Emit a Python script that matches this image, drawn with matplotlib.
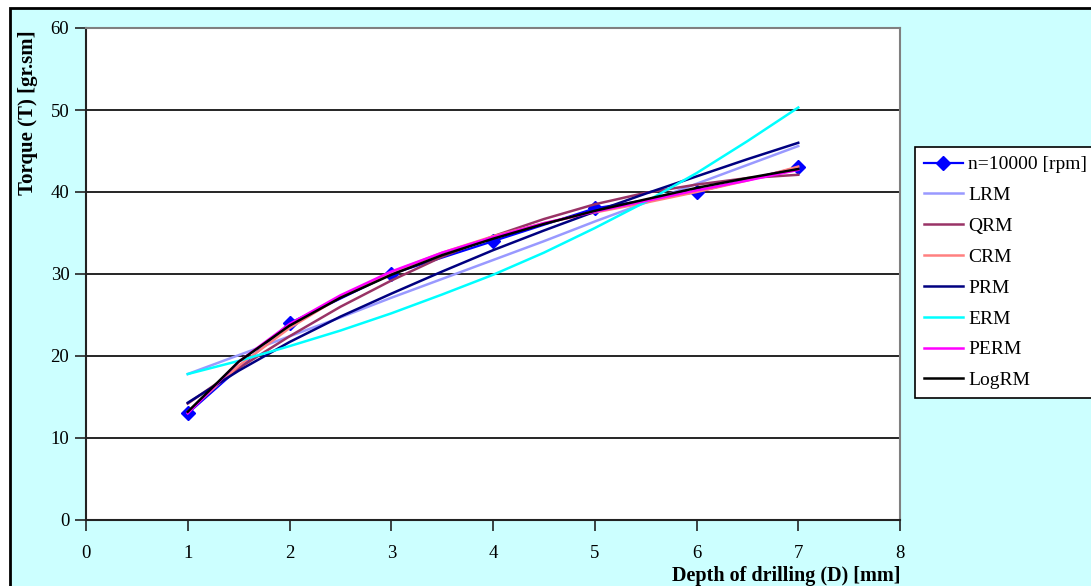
import matplotlib
matplotlib.use("Agg")
import matplotlib.pyplot as plt
from matplotlib.patches import Rectangle

# ---- data ----
depth = [1, 2, 3, 4, 5, 6, 7]
torque = [13, 24, 30, 34, 38, 40, 43]

x_fit = [1, 1.5, 2, 2.5, 3, 3.5, 4, 4.5, 5, 5.5, 6, 6.5, 7]
lrm = [17.8, 20.1, 22.4, 24.7, 27.1, 29.4, 31.7, 34.0, 36.4, 38.7, 41.0, 43.3, 45.6]
qrm = [14.2, 18.5, 22.4, 26.0, 29.2, 32.1, 34.6, 36.7, 38.5, 39.9, 40.9, 41.7, 42.1]
crm = [13.2, 18.8, 23.4, 27.2, 30.2, 32.6, 34.6, 36.2, 37.5, 38.7, 40.0, 41.4, 43.1]
prm = [14.3, 18.2, 21.7, 24.8, 27.6, 30.3, 32.9, 35.3, 37.6, 39.8, 41.9, 44.0, 46.0]
erm = [17.8, 19.4, 21.2, 23.1, 25.2, 27.5, 29.9, 32.6, 35.6, 38.8, 42.3, 46.2, 50.3]
perm = [13.0, 19.3, 23.9, 27.4, 30.3, 32.6, 34.5, 36.2, 37.6, 38.9, 40.2, 41.4, 42.7]
logrm = [13.2, 19.3, 23.7, 27.1, 29.9, 32.3, 34.3, 36.1, 37.7, 39.1, 40.5, 41.7, 42.8]

models = [("LRM", lrm, "#9999FF"), ("QRM", qrm, "#993366"), ("CRM", crm, "#FF8080"),
          ("PRM", prm, "#000080"), ("ERM", erm, "#00FFFF"), ("PERM", perm, "#FF00FF"),
          ("LogRM", logrm, "#000000")]

W, H = 1091, 586
fig = plt.figure(figsize=(W / 100, H / 100), dpi=100, facecolor="white")
serif = ["Liberation Serif", "DejaVu Serif"]

# chart area background and border
fig.patches.append(Rectangle((10 / W, -0.2), 1.2, 1.2 - 8 / H, transform=fig.transFigure,
                             facecolor="#CCFFFF", edgecolor="black", linewidth=2, zorder=-10))

ax = fig.add_axes([86 / W, 1 - 520 / H, (900 - 86) / W, (520 - 28) / H])
ax.set_zorder(1)
ax.set_facecolor("white")

ax.plot(depth, torque, color="#0000FF", marker="D", markersize=7, linewidth=1.6,
        label="n=10000 [rpm]", zorder=3)
for name, vals, col in models:
    ax.plot(x_fit, vals, color=col, linewidth=1.8, label=name, zorder=3)

ax.set_xlim(0, 8)
ax.set_ylim(0, 60)
ax.set_xticks(range(0, 9))
ax.set_yticks(range(0, 61, 10))
for yv in range(10, 60, 10):
    ax.axhline(yv, color="black", linewidth=1.2, zorder=1)

for side in ["top", "right"]:
    ax.spines[side].set_color("#808080")
    ax.spines[side].set_linewidth(1.5)
for side in ["left", "bottom"]:
    ax.spines[side].set_color("#222222")
    ax.spines[side].set_linewidth(1.5)

ax.tick_params(axis="both", direction="out", length=8, width=1.2, color="#222222",
               labelsize=13.5)
ax.tick_params(axis="x", pad=10)
ax.tick_params(axis="y", pad=4)
for lab in ax.get_xticklabels() + ax.get_yticklabels():
    lab.set_family(serif)

fig.text(28 / W, 1 - 113 / H, "Torque (T) [gr.sm]", rotation=90, ha="center", va="center",
         fontsize=15, fontweight="bold", family=serif)
fig.text(900 / W, 1 - 576 / H, "Depth of drilling (D) [mm]", ha="right", va="center",
         fontsize=14.5, fontweight="bold", family=serif)

leg = fig.legend(loc="upper left", bbox_to_anchor=(915 / W, 1 - 147 / H),
                 prop={"family": serif, "size": 14}, frameon=True, fancybox=False,
                 edgecolor="black", facecolor="white", framealpha=1,
                 handlelength=2.0, labelspacing=0.68, borderpad=0.45,
                 handletextpad=0.3, borderaxespad=0)
leg.set_zorder(20)
leg.get_frame().set_linewidth(1.2)

fig.savefig("out.png", dpi=100, facecolor=fig.get_facecolor())
